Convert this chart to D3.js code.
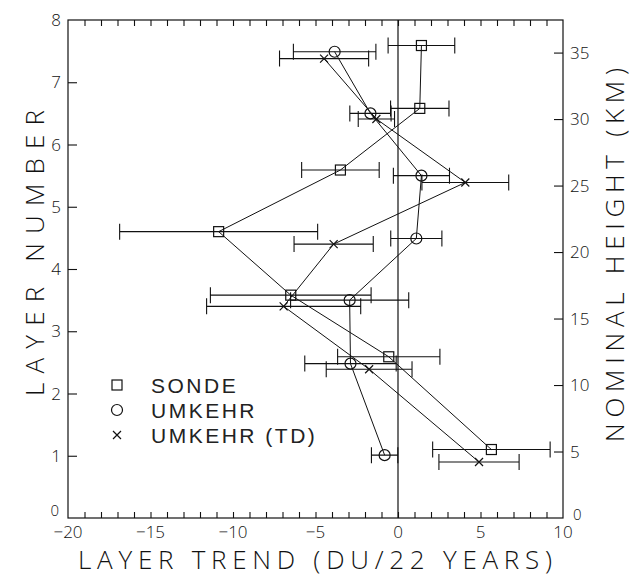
<!doctype html>
<html lang="en">
<head>
	<meta charset="UTF-8">
	<title>Layer trend</title>
	<script src="https://d3js.org/d3.v7.min.js"></script>
	<style>
		body {
			margin: 0;
			padding: 0;
			background: #fff;
		}
		svg text {
			font-family: "Open Sans", "DejaVu Sans", sans-serif;
			font-weight: 300;
			fill: #111;
		}
		svg text.legend-label {
			font-family: "Liberation Sans", Arial, sans-serif;
			font-weight: normal;
			fill: #222;
		}
	</style>
</head>
<body>
	<div id="chart"></div>

	<script>
		// layer positions (y) and trends (x) with half-width of error bar
		const sondeLayer = [7.59, 6.58, 5.59, 4.6, 3.58, 2.59, 1.1];
		const sondeTrend = [1.42, 1.32, -3.49, -10.87, -6.5, -0.56, 5.66];
		const sondeErr = [2.02, 1.77, 2.35, 6.0, 4.87, 3.1, 3.56];

		const umkLayer = [7.49, 6.5, 5.5, 4.49, 3.5, 2.48, 1.01];
		const umkTrend = [-3.84, -1.67, 1.42, 1.11, -2.93, -2.88, -0.81];
		const umkErr = [2.5, 1.25, 1.7, 1.55, 3.58, 2.77, 0.8];

		const tdLayer = [7.38, 6.41, 5.39, 4.4, 3.4, 2.39, 0.9];
		const tdTrend = [-4.48, -1.31, 4.08, -3.9, -6.93, -1.75, 4.91];
		const tdErr = [2.7, 1.1, 2.63, 2.4, 4.67, 2.6, 2.43];

		const xTicks = [-20, -15, -10, -5, 0, 5, 10];
		const yTicks = [0, 1, 2, 3, 4, 5, 6, 7, 8];
		const kmTicks = [0, 5, 10, 15, 20, 25, 30, 35];

		const seriesNames = ['SONDE', 'UMKEHR', 'UMKEHR (TD)'];

		const width = 632;
		const height = 578;
		const plotLeft = 68, plotRight = 563, plotTop = 20, plotBottom = 518;
		const ink = '#111';

		const x = d3.scaleLinear().domain([-20, 10]).range([plotLeft, plotRight]);
		const y = d3.scaleLinear().domain([0, 8]).range([plotBottom, plotTop]);
		const yKm = d3.scaleLinear().domain([0, 37.45]).range([plotBottom, plotTop]);

		const svg = d3.select('#chart')
			.append('svg')
			.attr('width', width)
			.attr('height', height);

		// frame
		svg.append('rect')
			.attr('x', plotLeft).attr('y', plotTop)
			.attr('width', plotRight - plotLeft).attr('height', plotBottom - plotTop)
			.attr('fill', 'none').attr('stroke', ink).attr('stroke-width', 1.2);

		// zero line
		svg.append('line')
			.attr('x1', x(0)).attr('x2', x(0))
			.attr('y1', plotTop).attr('y2', plotBottom)
			.attr('stroke', ink).attr('stroke-width', 1.2);

		// minor ticks along top and bottom
		const unitTicks = d3.range(-19, 10);
		svg.append('g').call(d3.axisTop(x).tickValues(unitTicks).tickSize(-6).tickFormat(''))
			.attr('transform', 'translate(0,' + plotTop + ')');
		svg.append('g').call(d3.axisBottom(x).tickValues(unitTicks).tickSize(-6).tickFormat(''))
			.attr('transform', 'translate(0,' + plotBottom + ')');

		// left ticks
		svg.append('g').call(d3.axisLeft(y).tickValues(yTicks.slice(1, 8)).tickSize(-9).tickFormat(''))
			.attr('transform', 'translate(' + plotLeft + ',0)');
		// right ticks (km)
		svg.append('g').call(d3.axisRight(yKm).tickValues(kmTicks.slice(1)).tickSize(-9).tickFormat(''))
			.attr('transform', 'translate(' + plotRight + ',0)');

		svg.selectAll('.domain').remove();
		svg.selectAll('.tick line').attr('stroke', ink).attr('stroke-width', 1.1);

		// tick labels
		svg.append('g').selectAll('text')
			.data(xTicks)
			.enter().append('text')
			.attr('x', (d) => x(d))
			.attr('y', 538)
			.attr('text-anchor', 'middle')
			.attr('font-size', 17)
			.text((d) => d < 0 ? '\u2212' + Math.abs(d) : d);

		svg.append('g').selectAll('text')
			.data(yTicks)
			.enter().append('text')
			.attr('x', (d) => d === 0 ? 59 : 61)
			.attr('y', (d) => d === 0 ? y(d) - 2 : y(d) + 6)
			.attr('text-anchor', 'end')
			.attr('font-size', (d) => d === 0 ? 15 : 17)
			.text((d) => d);

		svg.append('g').selectAll('text')
			.data(kmTicks)
			.enter().append('text')
			.attr('x', (d) => d === 0 ? 573 : 570)
			.attr('y', (d) => d === 0 ? y(0) + 2 : yKm(d) + 6)
			.attr('text-anchor', 'start')
			.attr('font-size', (d) => d === 0 ? 15 : 17)
			.text((d) => d);

		// axis titles
		svg.append('text')
			.attr('x', 78).attr('y', 569)
			.attr('font-size', 26)
			.attr('textLength', 474)
			.attr('lengthAdjust', 'spacing')
			.text('LAYER TREND (DU/22 YEARS)');

		svg.append('text')
			.attr('transform', 'translate(44,396) rotate(-90)')
			.attr('font-size', 26)
			.attr('textLength', 286)
			.attr('lengthAdjust', 'spacing')
			.text('LAYER NUMBER');

		svg.append('text')
			.attr('transform', 'translate(624,442) rotate(-90)')
			.attr('font-size', 26)
			.attr('textLength', 374)
			.attr('lengthAdjust', 'spacing')
			.text('NOMINAL HEIGHT (KM)');

		const series = [
			{ name: seriesNames[0], layer: sondeLayer, trend: sondeTrend, err: sondeErr, mark: 'square' },
			{ name: seriesNames[1], layer: umkLayer, trend: umkTrend, err: umkErr, mark: 'circle' },
			{ name: seriesNames[2], layer: tdLayer, trend: tdTrend, err: tdErr, mark: 'cross' }
		];

		const line = d3.line()
			.x((d) => x(d.t))
			.y((d) => y(d.l));

		function drawMark(g, kind, cx, cy) {
			if (kind === 'square') {
				g.append('rect')
					.attr('x', cx - 5).attr('y', cy - 5)
					.attr('width', 10).attr('height', 10)
					.attr('fill', 'none').attr('stroke', ink).attr('stroke-width', 1.2);
			} else if (kind === 'circle') {
				g.append('circle')
					.attr('cx', cx).attr('cy', cy).attr('r', 5.5)
					.attr('fill', 'none').attr('stroke', ink).attr('stroke-width', 1.2);
			} else {
				g.append('path')
					.attr('d', 'M' + (cx - 4) + ',' + (cy - 4) + 'L' + (cx + 4) + ',' + (cy + 4)
						+ 'M' + (cx - 4) + ',' + (cy + 4) + 'L' + (cx + 4) + ',' + (cy - 4))
					.attr('fill', 'none').attr('stroke', ink).attr('stroke-width', 1.2);
			}
		}

		series.forEach((s) => {
			const pts = s.layer.map((l, i) => ({ l: l, t: s.trend[i], e: s.err[i] }));
			const g = svg.append('g');

			g.append('path')
				.datum(pts)
				.attr('d', line)
				.attr('fill', 'none')
				.attr('stroke', ink)
				.attr('stroke-width', 1);

			// error bars
			pts.forEach((p) => {
				const cy = y(p.l);
				const x0 = x(p.t - p.e), x1 = x(p.t + p.e);
				g.append('path')
					.attr('d', 'M' + x0 + ',' + cy + 'H' + x1
						+ 'M' + x0 + ',' + (cy - 8) + 'V' + (cy + 8)
						+ 'M' + x1 + ',' + (cy - 8) + 'V' + (cy + 8))
					.attr('fill', 'none')
					.attr('stroke', ink)
					.attr('stroke-width', 1.1);
				drawMark(g, s.mark, x(p.t), cy);
			});
		});

		// legend
		const legend = svg.append('g')
			.selectAll('g')
			.data(series)
			.enter().append('g')
			.attr('transform', (d, i) => 'translate(117,' + (385 + i * 25) + ')');

		legend.each(function (d) {
			drawMark(d3.select(this), d.mark, 0, 0);
		});

		legend.append('text')
			.attr('class', 'legend-label')
			.attr('x', 34)
			.attr('y', 8)
			.attr('font-size', 21)
			.attr('letter-spacing', 2.5)
			.text((d) => d.name);
	</script>
</body>
</html>
